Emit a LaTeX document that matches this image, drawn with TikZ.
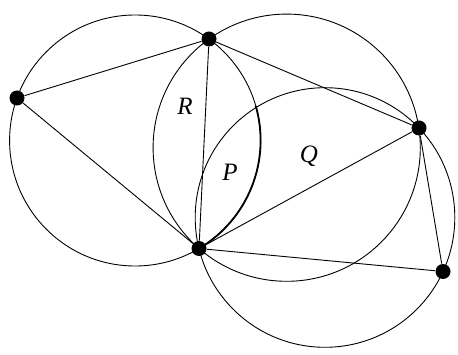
\documentclass[tikz,border=0pt]{standalone}
\usepackage{fontspec}
\setmainfont{Liberation Serif}
\usetikzlibrary{positioning}
\begin{document}
\begin{tikzpicture}[
    x=1pt, y=-1pt,
    line width=0.9pt,
    dot/.style={
        circle,
        fill=black,
        inner sep=0pt,
        minimum size=15pt
    },
    region/.style={
        font=\fontsize{25}{25}\selectfont\itshape,
        inner sep=0pt
    },
    heavyarc/.style={
        line width=1.8pt
    }
]
\useasboundingbox (0,0) rectangle (458,355);

% Points
\node[dot] (v1) at (17,98) {};
\node[dot] (v2) at (209,39) {};
\node[dot] (v3) at (419,128) {};
\node[dot] (v4) at (199,248.5) {};
\node[dot] (v5) at (443,271.5) {};

% Circle centres
\coordinate (o1) at (135.1,140.5);
\coordinate (o2) at (286.7,147.7);
\coordinate (o3) at (325.0,217.5);

% Circles
\draw (o1) circle[radius=125.5pt];
\draw (o2) circle[radius=133.6pt];
\draw (o3) circle[radius=129.8pt];
\draw[heavyarc] (o1) ++(16:125.5pt) arc[start angle=16, end angle=-59.4, radius=125.5pt];

% Segments
\draw (v1) -- (v2);
\draw (v1) -- (v4);
\draw (v2) -- (v4);
\draw (v2) -- (v3);
\draw (v3) -- (v4);
\draw (v3) -- (v5);
\draw (v4) -- (v5);

% Labels
\node[region] (lr) at (185,106.5) {R};
\node[region] (lp) at (230,172) {P};
\node[region] (lq) at (309,156) {Q};

\end{tikzpicture}
\end{document}
